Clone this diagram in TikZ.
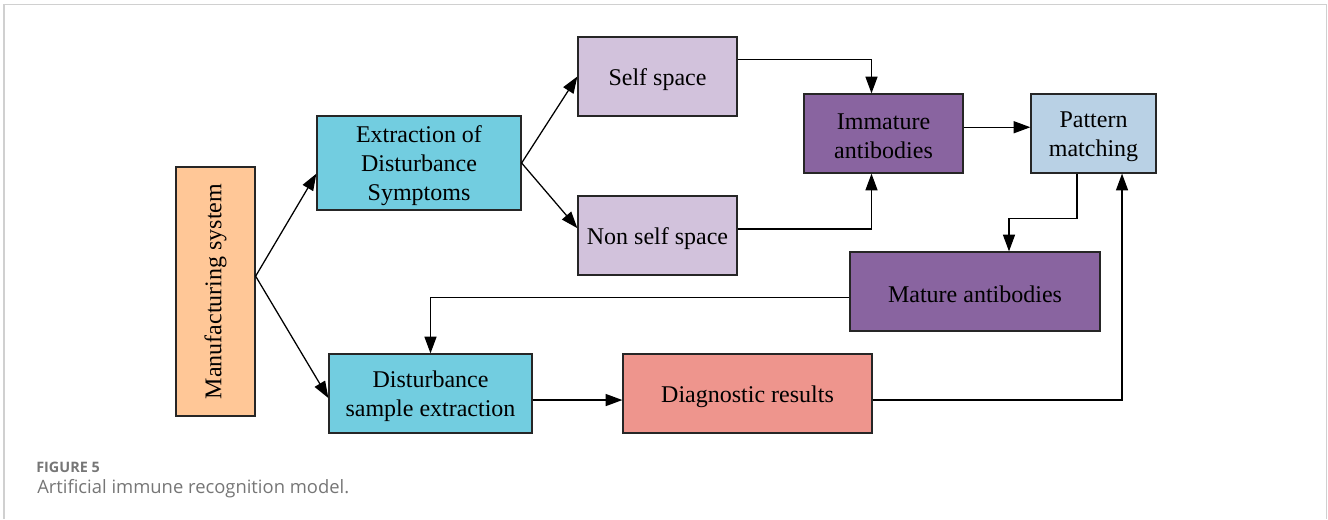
\documentclass[tikz,border=0pt]{standalone}
\usepackage{fontspec}
\setmainfont{Liberation Serif}
\newfontfamily\capfont{Open Sans}
\usetikzlibrary{arrows.meta,calc}

\definecolor{peach}{RGB}{255,199,151}
\definecolor{cyanbox}{RGB}{114,205,224}
\definecolor{lilac}{RGB}{210,194,220}
\definecolor{violet}{RGB}{137,100,160}
\definecolor{paleblue}{RGB}{185,209,229}
\definecolor{salmon}{RGB}{238,149,141}
\definecolor{edge}{RGB}{38,38,38}
\definecolor{frame}{RGB}{208,208,208}
\definecolor{captext}{RGB}{118,118,118}

% lower a label slightly while keeping its box size
\newcommand{\lowered}[1]{\raisebox{-2.2pt}[\height][\depth]{#1}}

\tikzset{
  blk/.style 2 args={draw=edge, line width=0.95pt, rectangle, align=center,
    minimum width=#1*0.75pt, minimum height=#2*0.75pt, inner sep=0pt,
    font=\fontsize{18}{21.75}\selectfont},
  flow/.style={draw=black, line width=0.95pt,
    -{Triangle[length=12.5pt, width=9pt]}},
}

\begin{document}
\begin{tikzpicture}[x=0.75pt, y=-0.75pt]
  \useasboundingbox (0,0) rectangle (1328,519);

  % outer frame, open at the bottom
  \draw[frame, line width=1.1pt] (4,519) -- (4,4.5) -- (1326.5,4.5) -- (1326.5,519);

  % blocks
  \node[blk={79}{249}, fill=peach] (man) at (215.5,291.5)
    {\rotatebox{90}{Manufacturing system}};
  \node[blk={204}{94}, fill=cyanbox] (ext) at (419,163)
    {\lowered{\parbox{150pt}{\centering Extraction of\\Disturbance\\Symptoms}}};
  \node[blk={159}{79}, fill=lilac] (self) at (657.5,76.5) {\lowered{Self space}};
  \node[blk={159}{79}, fill=lilac] (nonself) at (657.5,235.5) {\lowered{Non self space}};
  \node[blk={159}{79}, fill=violet] (imm) at (883.5,133.5)
    {\lowered{\parbox{110pt}{\centering Immature\\antibodies}}};
  \node[blk={125}{79}, fill=paleblue] (pat) at (1093.5,133.5)
    {\lowered{\parbox{90pt}{\centering Pattern\\matching}}};
  \node[blk={250}{79}, fill=violet] (mat) at (975,291.5) {\lowered{Mature antibodies}};
  \node[blk={203}{79}, fill=cyanbox] (dse) at (430.5,393.5)
    {\lowered{\parbox{150pt}{\centering Disturbance\\sample extraction}}};
  \node[blk={249}{79}, fill=salmon] (diag) at (747.5,393.5) {\lowered{Diagnostic results}};

  % connectors
  \draw[flow] ([yshift=11.5pt]man.east) -- ([yshift=-8pt]ext.west);
  \draw[flow] ([yshift=11.5pt]man.east) -- ([yshift=-3.4pt]dse.west);
  \draw[flow] (ext.east) -- (self.west);
  \draw[flow] (ext.east) -- ([yshift=5.5pt]nonself.west);
  \draw[flow] ([yshift=13pt]self.east) -| ([xshift=-9pt]imm.north);
  \draw[flow] ([yshift=4.9pt]nonself.east) -| ([xshift=-9pt]imm.south);
  \draw[flow] ([yshift=4.7pt]imm.east) -- ([yshift=4.7pt]pat.west);
  \draw[flow] ([xshift=-12.4pt]pat.south) -- ++(0,45) -| ([xshift=25.5pt]mat.north);
  \draw[flow] ([yshift=-4.5pt]mat.west) -| (dse.north);
  \draw[flow] ([yshift=-4.9pt]dse.east) -- ([yshift=-4.9pt]diag.west);
  \draw[flow] ([yshift=-4.9pt]diag.east) -| ([xshift=21.4pt]pat.south);

  % caption
  \node[anchor=base west, inner sep=0pt, text=captext,
        font=\capfont\bfseries\fontsize{10.8}{12}\selectfont] (fig) at (36,472) {FIGURE 5};
  \node[anchor=base west, inner sep=0pt, text=captext,
        font=\capfont\fontsize{13.8}{16}\selectfont] (cap) at (37,493)
        {Artificial immune recognition model.};
\end{tikzpicture}
\end{document}
